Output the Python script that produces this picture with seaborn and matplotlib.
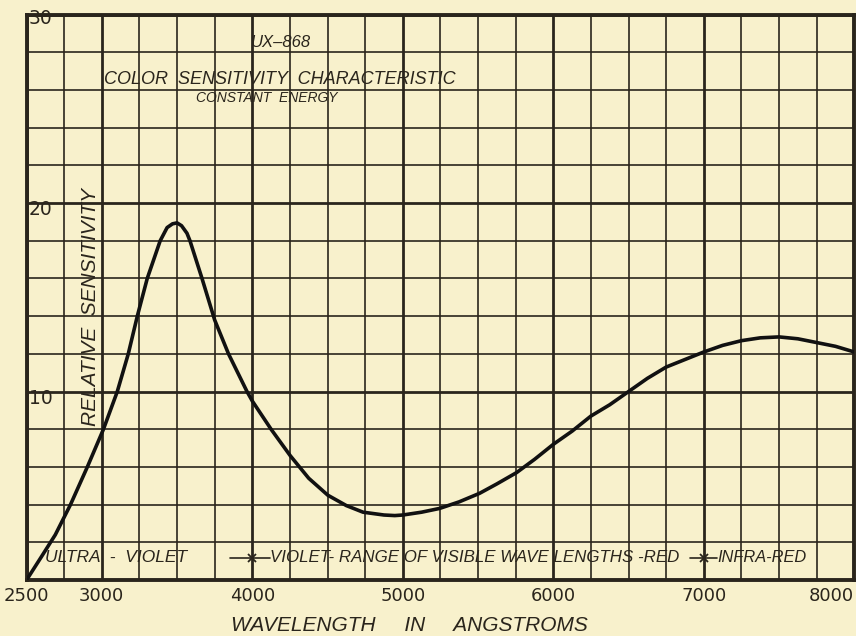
# UX-868 colour sensitivity characteristic (constant energy)
import numpy as np
import pandas as pd
import matplotlib.pyplot as plt
import seaborn as sns

wavelength = [2500, 2600, 2691, 2792, 2904, 3011, 3103, 3176, 3236, 3302,
              3388, 3434, 3470, 3500, 3530, 3566, 3586, 3666, 3750, 3842,
              3965, 4000, 4125, 4252, 4375, 4502, 4625, 4736, 4875, 4947,
              5000, 5125, 5245, 5375, 5510, 5625, 5756, 5875, 6000, 6125,
              6250, 6375, 6500, 6625, 6750, 6875, 7000, 7125, 7250, 7375,
              7500, 7625, 7750, 7875, 8000]
sensitivity = [0.0, 1.25, 2.4, 4.0, 6.0, 8.0, 10.0, 12.0, 14.0, 16.0,
               18.0, 18.7, 18.9, 18.95, 18.8, 18.4, 18.0, 16.0, 13.8, 12.0,
               10.0, 9.5, 8.0, 6.6, 5.4, 4.5, 3.95, 3.6, 3.45, 3.42,
               3.45, 3.6, 3.8, 4.15, 4.6, 5.1, 5.7, 6.4, 7.2, 7.9,
               8.7, 9.3, 10.0, 10.7, 11.3, 11.7, 12.1, 12.45, 12.7, 12.85,
               12.9, 12.8, 12.6, 12.4, 12.1]

x_ticks = [2500, 3000, 4000, 5000, 6000, 7000, 8000]
y_labels = [10, 20, 30]
range_marks = [4000, 7000]   # ends of the visible range
arrow_start = [3853, 6910]
arrow_end = [4118, 7089]

df = pd.DataFrame({'wavelength': wavelength, 'sensitivity': sensitivity})

paper = '#f8f1cc'
ink = '#2a251c'

sns.set_theme(style='white', rc={'figure.facecolor': paper, 'axes.facecolor': paper})
plt.rcParams['font.family'] = ['DejaVu Sans']

fig = plt.figure(figsize=(8.56, 6.36), dpi=100)
ax = fig.add_axes([0.031, 0.088, 0.967, 0.889])

sns.lineplot(data=df, x='wavelength', y='sensitivity', color='#111111', linewidth=2.6,
             solid_joinstyle='round', solid_capstyle='round', ax=ax, zorder=5)

ax.set_xlim(2500, 8000)
ax.set_ylim(0, 30)

# graph paper grid
ax.set_xticks(x_ticks)
ax.set_xticks(np.arange(2500, 8001, 250), minor=True)
ax.set_yticks([0, 10, 20, 30])
ax.set_yticks(np.arange(0, 31, 2), minor=True)
ax.grid(which='major', color=ink, linewidth=2.0)
ax.grid(which='minor', color=ink, linewidth=1.2)
ax.set_axisbelow(True)
for s in ax.spines.values():
    s.set_color(ink)
    s.set_linewidth(2.8)
    s.set_visible(True)

ax.tick_params(which='both', length=0)
ax.tick_params(axis='x', pad=5, labelsize=13, labelcolor=ink)
ax.set_xticklabels([str(t) for t in x_ticks])
ax.get_xticklabels()[-1].set_horizontalalignment('right')
ax.set_yticklabels([])
ax.set_xlabel('')
ax.set_ylabel('')

for v in y_labels:
    if v == 30:
        ax.text(2515, v - 0.2, str(v), fontsize=13.5, color=ink, ha='left', va='center', zorder=6)
    else:
        ax.text(2515, v + 0.15, str(v), fontsize=13.5, color=ink, ha='left', va='top', zorder=6)

hand = dict(style='italic', color=ink, family='Liberation Sans')

ax.text(4191, 28.5, 'UX\u2013868', fontsize=12, ha='center', va='center', **hand)
ax.text(3017, 26.55, 'COLOR  SENSITIVITY  CHARACTERISTIC', fontsize=13, ha='left', va='center', **hand)
ax.text(3627, 25.6, 'CONSTANT  ENERGY', fontsize=10, ha='left', va='center', **hand)
ax.text(2924, 14.5, 'RELATIVE  SENSITIVITY', fontsize=15, rotation=90, ha='center', va='center', **hand)

band_y = 1.17
ax.text(2626, band_y, 'ULTRA  -  VIOLET', fontsize=12.5, ha='left', va='center', **hand)
ax.text(4118, band_y, 'VIOLET- RANGE OF VISIBLE WAVE LENGTHS -RED', fontsize=12.2, ha='left', va='center', **hand)
ax.text(7089, band_y, 'INFRA-RED', fontsize=11.8, ha='left', va='center', **hand)
for m, a, b in zip(range_marks, arrow_start, arrow_end):
    ax.plot([a, b], [band_y, band_y], color=ink, linewidth=1.2, zorder=6)
    ax.plot([m], [band_y], marker='x', color=ink, markersize=6, mew=1.3, zorder=6)

fig.text(0.478, 0.016, 'WAVELENGTH     IN     ANGSTROMS', fontsize=15, ha='center', va='center', **hand)

fig.savefig('out.png', dpi=100, facecolor=paper)
